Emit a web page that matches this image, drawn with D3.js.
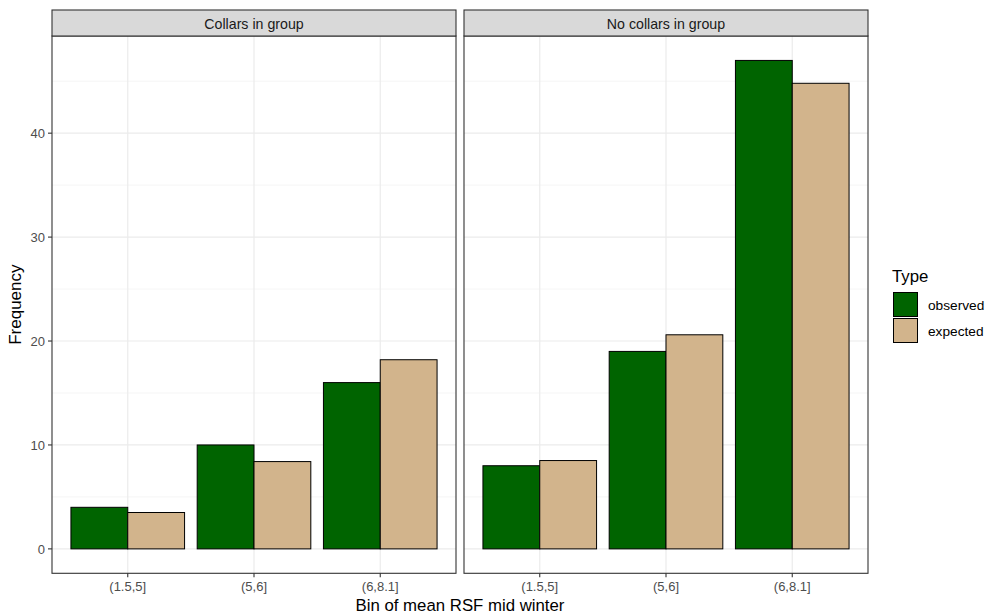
<!DOCTYPE html>
<html><head><meta charset="utf-8">
<script src="https://cdn.jsdelivr.net/npm/d3@7"></script>
<style>body{margin:0;background:#fff}svg{display:block}text{font-family:"Liberation Sans",Arial,sans-serif}</style>
</head><body><svg id="c" width="989" height="615"></svg>
<script>
const facets = ["Collars in group", "No collars in group"];
const bins = ["(1.5,5]", "(5,6]", "(6,8.1]"];
const types = ["observed", "expected"];
const observed = [[4, 10, 16], [8, 19, 47]];
const expected = [[3.5, 8.4, 18.2], [8.5, 20.6, 44.8]];
const yTicks = [0, 10, 20, 30, 40];
const yMinor = [5, 15, 25, 35, 45];
const colors = {observed: "#006400", expected: "#D2B48C"};

const svg = d3.select("#c");
const panelTop = 36, panelBottom = 573.3;
const panels = [{x0: 52, x1: 456}, {x0: 464, x1: 868}];
const y = d3.scaleLinear().domain([-2.35, 49.35]).range([panelBottom, panelTop]);

panels.forEach((p, fi) => {
  const g = svg.append("g");
  const xc = d3.scalePoint().domain(bins).range([p.x0, p.x1]).padding(0.6);
  const unit = xc.step();
  g.append("rect").attr("x", p.x0).attr("y", panelTop).attr("width", p.x1 - p.x0).attr("height", panelBottom - panelTop).attr("fill", "#fff");
  yMinor.forEach(v => g.append("line").attr("x1", p.x0).attr("x2", p.x1).attr("y1", y(v)).attr("y2", y(v)).attr("stroke", "#F2F2F2").attr("stroke-width", 0.8));
  yTicks.forEach(v => g.append("line").attr("x1", p.x0).attr("x2", p.x1).attr("y1", y(v)).attr("y2", y(v)).attr("stroke", "#EBEBEB").attr("stroke-width", 1.2));
  bins.forEach(b => g.append("line").attr("x1", xc(b)).attr("x2", xc(b)).attr("y1", panelTop).attr("y2", panelBottom).attr("stroke", "#EBEBEB").attr("stroke-width", 1.2));
  const bw = unit * 0.9 / 2;
  bins.forEach((b, i) => {
    [["observed", observed[fi][i], -1], ["expected", expected[fi][i], 0]].forEach(([t, v, off]) => {
      g.append("rect").attr("x", xc(b) + off * bw).attr("y", y(v)).attr("width", bw).attr("height", y(0) - y(v))
        .attr("fill", colors[t]).attr("stroke", "#000").attr("stroke-width", 1);
    });
  });
  g.append("rect").attr("x", p.x0).attr("y", panelTop).attr("width", p.x1 - p.x0).attr("height", panelBottom - panelTop).attr("fill", "none").attr("stroke", "#333").attr("stroke-width", 1.1);
  g.append("rect").attr("x", p.x0).attr("y", 10).attr("width", p.x1 - p.x0).attr("height", panelTop - 10).attr("fill", "#D9D9D9").attr("stroke", "#333").attr("stroke-width", 1.1);
  g.append("text").attr("x", (p.x0 + p.x1) / 2).attr("y", 28.5).attr("text-anchor", "middle").attr("font-size", 14.2).attr("fill", "#1A1A1A").text(facets[fi]);
  bins.forEach(b => {
    g.append("line").attr("x1", xc(b)).attr("x2", xc(b)).attr("y1", panelBottom).attr("y2", panelBottom + 4).attr("stroke", "#333").attr("stroke-width", 1.1);
    g.append("text").attr("x", xc(b)).attr("y", panelBottom + 18).attr("text-anchor", "middle").attr("font-size", 13).attr("fill", "#4D4D4D").text(b);
  });
});

yTicks.forEach(v => {
  svg.append("line").attr("x1", 48).attr("x2", 52).attr("y1", y(v)).attr("y2", y(v)).attr("stroke", "#333").attr("stroke-width", 1.1);
  svg.append("text").attr("x", 45).attr("y", y(v) + 4.8).attr("text-anchor", "end").attr("font-size", 13).attr("fill", "#4D4D4D").text(v);
});

svg.append("text").attr("x", 460).attr("y", 611).attr("text-anchor", "middle").attr("font-size", 16.8).attr("fill", "#000").text("Bin of mean RSF mid winter");
svg.append("text").attr("transform", "translate(21," + ((panelTop + panelBottom) / 2) + ") rotate(-90)").attr("text-anchor", "middle").attr("font-size", 17).attr("fill", "#000").text("Frequency");

svg.append("text").attr("x", 892).attr("y", 282).attr("font-size", 16.8).attr("fill", "#000").text("Type");
types.forEach((t, i) => {
  svg.append("rect").attr("x", 893.5).attr("y", 292.5 + i * 26).attr("width", 24).attr("height", 24).attr("fill", colors[t]).attr("stroke", "#000").attr("stroke-width", 1);
  svg.append("text").attr("x", 928).attr("y", 309.5 + i * 26).attr("font-size", 13.7).attr("fill", "#000").text(t);
});
</script></body></html>
